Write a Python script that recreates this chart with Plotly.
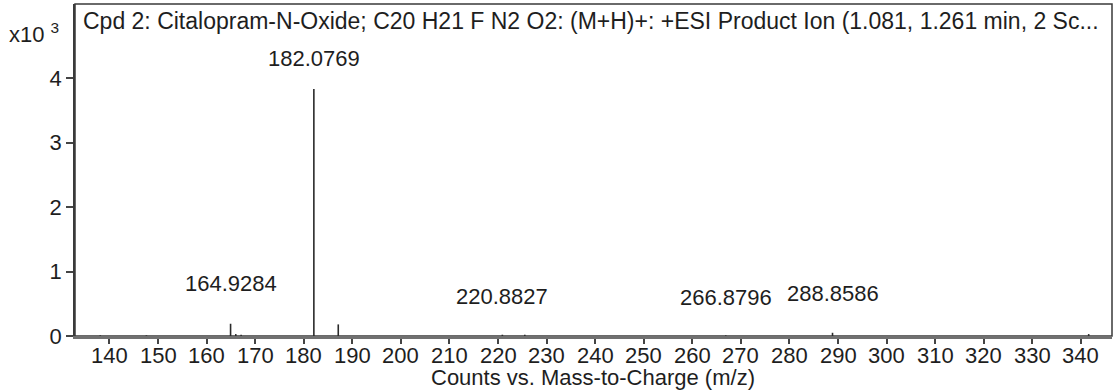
import plotly.graph_objects as go

# Product-ion spectrum of Citalopram-N-Oxide (counts in units of 10^3)
peak_mz = [138.1, 147.6, 164.9284, 166.0, 167.1, 182.0769, 187.1,
           220.8827, 225.5, 266.8796, 288.8586, 341.6]
peak_counts = [0.01, 0.01, 0.19, 0.03, 0.02, 3.83, 0.18,
               0.02, 0.02, 0.01, 0.05, 0.03]

label_mz = [182.0769, 164.9284, 220.8827, 266.8796, 288.8586]
label_y = [4.30, 0.82, 0.62, 0.60, 0.66]

x_ticks = list(range(140, 341, 10))
y_ticks = [0, 1, 2, 3, 4]

title_text = ("Cpd 2: Citalopram-N-Oxide; C20 H21 F N2 O2: (M+H)+: "
              "+ESI Product Ion (1.081, 1.261 min, 2 Sc...")
x_title = "Counts vs. Mass-to-Charge (m/z)"

FONT = "Liberation Sans, Arial, sans-serif"
INK = "#1e1e1e"
FS = 22

W, H = 1120, 392
ML, MR, MT, MB = 75, 8, 4, 56
PW, PH = W - ML - MR, H - MT - MB


def px_to_paper(px, py):
    """Convert a pixel position (from top-left) to paper coordinates."""
    return (px - ML) / PW, (H - MB - py) / PH


# stick spectrum: one vertical segment per peak
xs, ys = [], []
for mz, c in zip(peak_mz, peak_counts):
    xs += [mz, mz, None]
    ys += [0, c, None]

fig = go.Figure()
fig.add_trace(go.Scatter(x=xs, y=ys, mode="lines",
                         line=dict(color="#2a2a2a", width=1.6),
                         hoverinfo="skip", showlegend=False))

for mz, ly in zip(label_mz, label_y):
    fig.add_annotation(x=mz, y=ly, xref="x", yref="y", text=f"{mz:.4f}",
                       showarrow=False, font=dict(family=FONT, size=FS, color=INK),
                       xanchor="center", yanchor="middle")

# x tick labels, set a little closer to the axis than the default spacing
_, tick_y = px_to_paper(0, 355)
for t in x_ticks:
    fig.add_annotation(x=t, y=tick_y, xref="x", yref="paper", text=str(t),
                       showarrow=False, xanchor="center", yanchor="middle",
                       font=dict(family=FONT, size=FS, color=INK))

tx, ty = px_to_paper(81, 6)
fig.add_annotation(x=tx, y=ty, xref="paper", yref="paper", text=title_text,
                   showarrow=False, xanchor="left", yanchor="top",
                   font=dict(family=FONT, size=23, color=INK))

ux, uy = px_to_paper(7, 33)
fig.add_annotation(x=ux, y=uy, xref="paper", yref="paper", text="x10 <sup>3</sup>",
                   showarrow=False, xanchor="left", yanchor="middle",
                   font=dict(family=FONT, size=22, color=INK))

ax, ay = px_to_paper(593, 377)
fig.add_annotation(x=ax, y=ay, xref="paper", yref="paper", text=x_title,
                   showarrow=False, xanchor="center", yanchor="middle",
                   font=dict(family=FONT, size=FS, color=INK))

# frame around the plotting area
fig.add_shape(type="rect", xref="paper", yref="paper", x0=0, y0=0, x1=1, y1=1,
              line=dict(color="#3a3a3a", width=1.5), layer="below")

fig.update_layout(
    width=W, height=H,
    margin=dict(l=ML, r=MR, t=MT, b=MB),
    paper_bgcolor="white", plot_bgcolor="white",
    font=dict(family=FONT, size=FS, color=INK),
    xaxis=dict(range=[132.9, 346.4], tickvals=x_ticks, ticks="outside",
               ticklen=5, tickwidth=1.5, tickcolor="#444", showticklabels=False,
               showgrid=False, zeroline=False, showline=True,
               linecolor="#707070", linewidth=3, automargin=False),
    yaxis=dict(range=[0, 5.15], tickvals=y_ticks, ticks="outside",
               ticklen=7, tickwidth=1.5, tickcolor="#444",
               showgrid=False, zeroline=False, showline=True,
               linecolor="#3a3a3a", linewidth=1.5, automargin=False,
               tickfont=dict(family=FONT, size=FS, color=INK)),
)

fig.write_html("out.html")
